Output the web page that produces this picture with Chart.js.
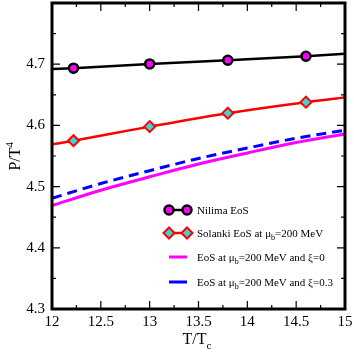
<!DOCTYPE html>
<html>
<head>
<meta charset="utf-8">
<script src="https://cdn.jsdelivr.net/npm/chart.js@4.4.1/dist/chart.umd.min.js"></script>
<style>
  html, body { margin: 0; padding: 0; background: #fff; }
  #wrap { width: 354px; height: 354px; }
</style>
</head>
<body>
<div id="wrap"><canvas id="c"></canvas></div>
<script>
// T/Tc values and P/T^4
const tNilima = [12, 12.22, 13, 13.8, 14.6, 15];
const pNilima = [4.692, 4.6935, 4.7005, 4.7065, 4.713, 4.717];

const tSolanki = [12, 12.22, 13, 13.8, 14.6, 15];
const pSolanki = [4.569, 4.575, 4.598, 4.620, 4.638, 4.6455];

const tEos = [12, 12.5, 13, 13.5, 14, 14.5, 15];
const pXi0 = [4.469, 4.494, 4.516, 4.537, 4.555, 4.572, 4.586];
const pXi03 = [4.481, 4.505, 4.526, 4.546, 4.563, 4.579, 4.592];

const xTicks = [12, 12.5, 13, 13.5, 14, 14.5, 15];
const yTicks = [4.3, 4.4, 4.5, 4.6, 4.7];

const legendItems = [
  { pre: 'Nilima EoS', sub: '', post: '', kind: 'circle', color: '#000' },
  { pre: 'Solanki EoS at \u03bc', sub: 'b', post: '=200 MeV', kind: 'diamond', color: '#ff0000' },
  { pre: 'EoS at \u03bc', sub: 'b', post: '=200 MeV and \u03be=0', kind: 'line', color: '#ff00ff' },
  { pre: 'EoS at \u03bc', sub: 'b', post: '=200 MeV and \u03be=0.3', kind: 'line', color: '#0000ff' },
];

const SERIF = '"Liberation Serif", "DejaVu Serif", serif';
const CYAN = '#3fd3d3';

const zip = (xs, ys) => xs.map((x, i) => ({ x, y: ys[i] }));
const markerRadii = (xs, r) => xs.map((x, i) => (i === 0 || i === xs.length - 1) ? 0 : r);

function circle(ctx, x, y) {
  ctx.beginPath();
  ctx.arc(x, y, 4.5, 0, Math.PI * 2);
  ctx.fillStyle = '#ff00ff';
  ctx.fill();
  ctx.lineWidth = 2.5;
  ctx.strokeStyle = '#000';
  ctx.stroke();
}

function diamond(ctx, x, y) {
  const r = 5.5;
  ctx.beginPath();
  ctx.moveTo(x, y - r); ctx.lineTo(x + r, y); ctx.lineTo(x, y + r); ctx.lineTo(x - r, y);
  ctx.closePath();
  ctx.fillStyle = CYAN;
  ctx.fill();
  ctx.lineWidth = 2;
  ctx.strokeStyle = '#ff0000';
  ctx.stroke();
}

// frame, inward ticks, titles and the grace-style legend
const decor = {
  id: 'decor',
  afterDraw(chart) {
    const { ctx, chartArea: a, scales } = chart;
    const xs = scales.x, ys = scales.y;
    ctx.save();
    ctx.strokeStyle = '#000';

    ctx.lineWidth = 1.2;
    ctx.beginPath();
    for (let v = 12; v <= 15.001; v += 0.25) {
      const px = xs.getPixelForValue(v);
      const len = Math.abs(v * 2 - Math.round(v * 2)) < 1e-6 ? 8 : 4;
      ctx.moveTo(px, a.bottom); ctx.lineTo(px, a.bottom - len);
      ctx.moveTo(px, a.top); ctx.lineTo(px, a.top + len);
    }
    for (let v = 4.3; v <= 4.8001; v += 0.05) {
      const py = ys.getPixelForValue(v);
      const len = Math.abs(v * 10 - Math.round(v * 10)) < 1e-6 ? 8 : 4;
      ctx.moveTo(a.left, py); ctx.lineTo(a.left + len, py);
      ctx.moveTo(a.right, py); ctx.lineTo(a.right - len, py);
    }
    ctx.stroke();

    ctx.lineWidth = 3;
    ctx.strokeRect(a.left, a.top, a.right - a.left, a.bottom - a.top);

    // axis titles
    ctx.fillStyle = '#000';
    ctx.textBaseline = 'alphabetic';
    ctx.font = '16px ' + SERIF;
    const tx = 'T/T';
    const cx = (a.left + a.right) / 2 - 4;
    const w = ctx.measureText(tx).width;
    ctx.fillText(tx, cx - w / 2, 344);
    ctx.font = '11px ' + SERIF;
    ctx.fillText('c', cx + w / 2, 349);

    ctx.save();
    ctx.translate(20, (a.top + a.bottom) / 2);
    ctx.rotate(-Math.PI / 2);
    ctx.font = '16px ' + SERIF;
    const ty = 'P/T';
    const wy = ctx.measureText(ty).width;
    ctx.fillText(ty, -wy / 2 - 3, 0);
    ctx.font = '11px ' + SERIF;
    ctx.fillText('4', wy / 2 - 3, -7);
    ctx.restore();

    // legend
    const rows = [210, 233, 257, 282];
    legendItems.forEach((it, i) => {
      const y = rows[i];
      ctx.lineWidth = it.kind === 'line' ? 3 : 2.5;
      ctx.strokeStyle = it.color;
      ctx.beginPath();
      ctx.moveTo(169, y); ctx.lineTo(187, y);
      ctx.stroke();
      if (it.kind === 'circle') { circle(ctx, 169, y); circle(ctx, 187, y); }
      if (it.kind === 'diamond') { diamond(ctx, 169, y); diamond(ctx, 187, y); }

      ctx.fillStyle = '#000';
      let x = 197;
      ctx.font = '11px ' + SERIF;
      ctx.fillText(it.pre, x, y + 4);
      x += ctx.measureText(it.pre).width;
      if (it.sub) {
        ctx.font = '8px ' + SERIF;
        ctx.fillText(it.sub, x, y + 7);
        x += ctx.measureText(it.sub).width;
        ctx.font = '11px ' + SERIF;
        ctx.fillText(it.post, x, y + 4);
      }
    });
    ctx.restore();
  }
};

new Chart(document.getElementById('c'), {
  type: 'scatter',
  data: {
    datasets: [
      {
        data: zip(tEos, pXi0),
        showLine: true,
        borderColor: '#ff00ff',
        borderWidth: 3,
        pointRadius: 0,
        cubicInterpolationMode: 'monotone',
      },
      {
        data: zip(tEos, pXi03),
        showLine: true,
        borderColor: '#0000ff',
        borderWidth: 3,
        borderDash: [10, 6],
        pointRadius: 0,
        cubicInterpolationMode: 'monotone',
      },
      {
        data: zip(tSolanki, pSolanki),
        showLine: true,
        borderColor: '#ff0000',
        borderWidth: 2.5,
        pointStyle: 'rectRot',
        pointRadius: markerRadii(tSolanki, 5.5),
        pointBackgroundColor: CYAN,
        pointBorderColor: '#ff0000',
        pointBorderWidth: 2,
        cubicInterpolationMode: 'monotone',
      },
      {
        data: zip(tNilima, pNilima),
        showLine: true,
        borderColor: '#000',
        borderWidth: 2.5,
        pointStyle: 'circle',
        pointRadius: markerRadii(tNilima, 4.5),
        pointBackgroundColor: '#ff00ff',
        pointBorderColor: '#000',
        pointBorderWidth: 2.5,
      },
    ],
  },
  options: {
    responsive: true,
    maintainAspectRatio: false,
    animation: false,
    events: [],
    layout: { padding: { left: 0, right: 0, top: 0, bottom: 0 } },
    plugins: { legend: { display: false }, tooltip: { enabled: false } },
    scales: {
      x: {
        type: 'linear',
        min: 12, max: 15,
        afterBuildTicks: s => { s.ticks = xTicks.map(v => ({ value: v })); },
        afterFit: s => { s.height = 45; s.paddingRight = 9; s.paddingLeft = 0; },
        grid: { display: false, drawTicks: false },
        border: { display: false },
        ticks: {
          color: '#000',
          padding: 4,
          maxRotation: 0,
          font: { family: SERIF, size: 15 },
          callback: v => String(v),
        },
      },
      y: {
        type: 'linear',
        min: 4.3, max: 4.8,
        afterBuildTicks: s => { s.ticks = yTicks.map(v => ({ value: v })); },
        afterFit: s => { s.width = 52; s.paddingTop = 3; s.paddingBottom = 0; },
        grid: { display: false, drawTicks: false },
        border: { display: false },
        ticks: {
          color: '#000',
          padding: 7,
          font: { family: SERIF, size: 15 },
          callback: v => v.toFixed(1),
        },
      },
    },
  },
  plugins: [decor],
});
</script>
</body>
</html>
